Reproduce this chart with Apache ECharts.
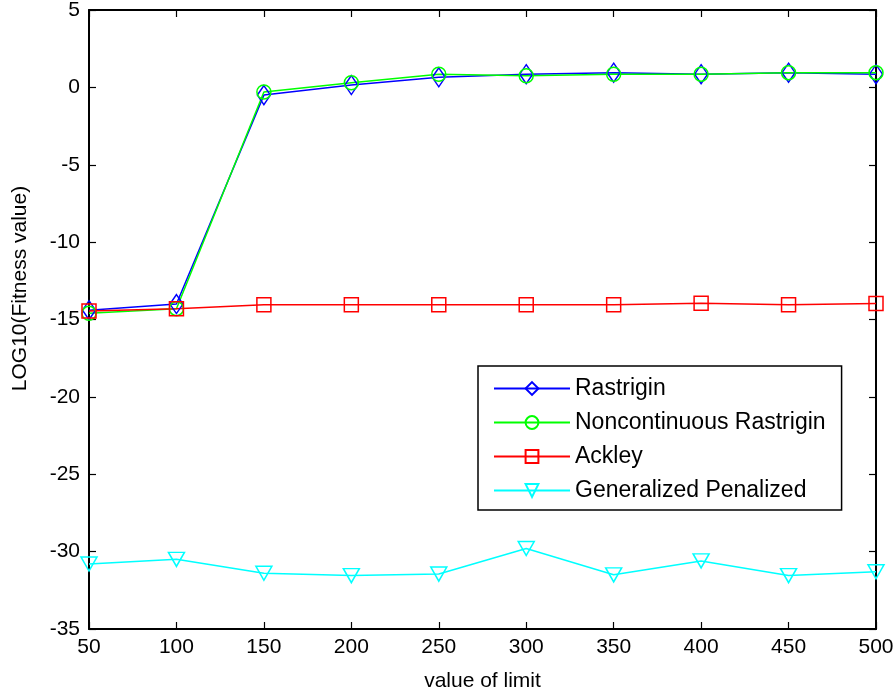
<!DOCTYPE html>
<html>
<head>
<meta charset="utf-8">
<script src="https://cdn.jsdelivr.net/npm/echarts@6/dist/echarts.min.js"></script>
<style>html,body{margin:0;padding:0;background:#fff;}#c{width:896px;height:692px;}</style>
</head>
<body>
<div id="c"></div>
<script>
const categories = [50, 100, 150, 200, 250, 300, 350, 400, 450, 500];
const rastrigin = [-14.4, -14.0, -0.5, 0.15, 0.65, 0.85, 0.95, 0.85, 0.95, 0.85];
const noncontRastrigin = [-14.6, -14.3, -0.3, 0.3, 0.85, 0.75, 0.85, 0.85, 0.95, 0.95];
const ackley = [-14.45, -14.3, -14.05, -14.05, -14.05, -14.05, -14.05, -13.95, -14.05, -13.97];
const genPenalized = [-30.8, -30.5, -31.4, -31.55, -31.45, -29.8, -31.5, -30.6, -31.55, -31.3];
const seriesNames = ['Rastrigin', 'Noncontinuous Rastrigin', 'Ackley', 'Generalized Penalized'];

const font = 'Liberation Sans, Arial, sans-serif';
const chart = echarts.init(document.getElementById('c'));
function mk(name, data, color, symbol, size, rot) {
  return {
    name: name, type: 'line', xAxisIndex: 0, yAxisIndex: 0,
    data: data.map((v, i) => [categories[i], v]),
    symbol: symbol, symbolSize: size, symbolRotate: rot || 0,
    showAllSymbol: true,
    lineStyle: { color: color, width: 1.5 },
    itemStyle: { color: 'rgba(0,0,0,0)', borderColor: color, borderWidth: 1.5 },
    emphasis: { disabled: true },
    animation: false
  };
}
const frameLine = { onZero: false, lineStyle: { color: '#000', width: 2 } };
const tick = { inside: true, length: 7, lineStyle: { color: '#000', width: 1.2 } };
const baseX = { type: 'value', min: 50, max: 500, interval: 50, axisLine: frameLine, axisTick: tick, splitLine: { show: false } };
const baseY = { type: 'value', min: -35, max: 5, interval: 5, axisLine: frameLine, axisTick: tick, splitLine: { show: false } };
chart.setOption({
  animation: false,
  grid: { left: 89, right: 20, top: 10, bottom: 63, containLabel: false, outerBoundsMode: 'none' },
  legend: {
    orient: 'vertical', left: 478, top: 366,
    backgroundColor: '#fff', borderColor: '#000', borderWidth: 1.5,
    padding: [11, 16, 8, 15],
    itemWidth: 76, itemHeight: 16, itemGap: 11,
    textStyle: { fontFamily: font, fontSize: 23, color: '#000' },
    data: seriesNames
  },
  xAxis: [
    Object.assign({}, baseX, {
      position: 'bottom',
      name: 'value of limit', nameLocation: 'middle', nameGap: 42,
      nameTextStyle: { fontFamily: font, fontSize: 21, color: '#000' },
      axisLabel: { fontFamily: font, fontSize: 21, color: '#000', margin: 8 }
    }),
    Object.assign({}, baseX, { position: 'top', axisLabel: { show: false } })
  ],
  yAxis: [
    Object.assign({}, baseY, {
      position: 'left',
      name: 'LOG10(Fitness value)', nameLocation: 'middle', nameGap: 58,
      nameTextStyle: { fontFamily: font, fontSize: 21, color: '#000', padding: [0, 0, 0, 62] },
      axisLabel: { fontFamily: font, fontSize: 21, color: '#000', margin: 9 }
    }),
    Object.assign({}, baseY, { position: 'right', axisLabel: { show: false } })
  ],
  series: [
    mk(seriesNames[0], rastrigin, '#0000ff', 'diamond', [13, 19]),
    mk(seriesNames[1], noncontRastrigin, '#00ff00', 'circle', 14),
    mk(seriesNames[2], ackley, '#ff0000', 'rect', 14),
    mk(seriesNames[3], genPenalized, '#00ffff', 'triangle', [16, 14], 180)
  ]
});
</script>
</body>
</html>
